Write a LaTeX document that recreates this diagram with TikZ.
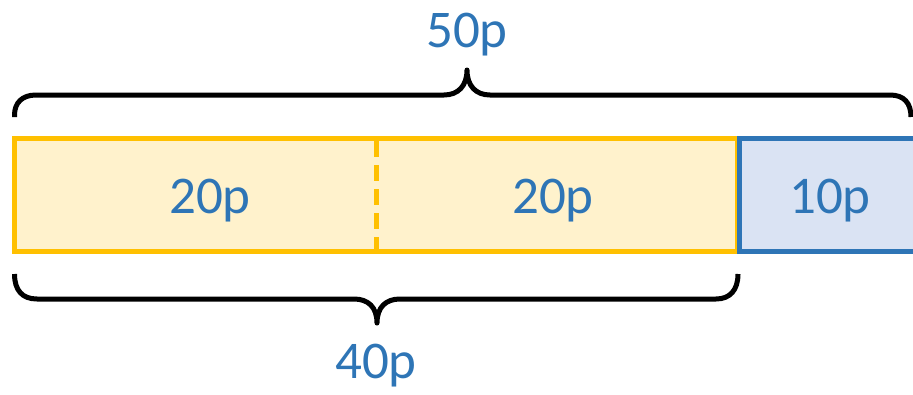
\documentclass[tikz,border=0pt]{standalone}
\usepackage{fontspec}
\setmainfont{Carlito}
\definecolor{ygold}{HTML}{FFC000}
\definecolor{yfill}{HTML}{FFF2CC}
\definecolor{bblue}{HTML}{2E75B6}
\definecolor{bfill}{HTML}{DAE3F3}
\begin{document}
\begin{tikzpicture}[x=1pt,y=-1pt,
  lbl/.style={text=bblue, font=\fontsize{53}{60}\selectfont, anchor=base, inner sep=0pt},
  brace/.style={draw=black, line width=5pt, line join=round},
  ybox/.style={draw=ygold, fill=yfill, line width=5pt},
  bbox/.style={draw=bblue, fill=bfill, line width=5pt}]
\useasboundingbox (0,0) rectangle (913,394);
\clip (0,0) rectangle (913,394);
% boxes
\path[ybox] (14.5,138.5) rectangle (737,251.5);
\coordinate (dt) at (376.5,141);
\coordinate (db) at (376.5,249);
\draw[ygold, line width=5pt, dash pattern=on 16pt off 8pt] (dt) -- (db);
\path[bbox] (739.5,138.5) rectangle (930,251.5);
% top brace
\coordinate (tl) at (14.5,117);
\coordinate (tt) at (467,70);
\coordinate (tr) at (911,117);
\draw[brace] (tl) -- (14.5,115) .. controls (14.5,103) and (22,95) .. (36,95)
  -- (444,95) .. controls (458,95) and (467,86) .. (tt)
  .. controls (467,86) and (476,95) .. (490,95)
  -- (890,95) .. controls (904,95) and (911,103) .. (tr);
% bottom brace
\coordinate (bl) at (14.5,274);
\coordinate (bt) at (377,323);
\coordinate (br) at (738,274);
\draw[brace] (bl) .. controls (14.5,290) and (22,299) .. (37,299)
  -- (354,299) .. controls (368,299) and (377,307) .. (bt)
  .. controls (377,307) and (386,299) .. (400,299)
  -- (716,299) .. controls (730,299) and (738,290) .. (br);
% labels
\node[lbl] (l50) at (467,47) {50p};
\node[lbl] (l20a) at (210,213) {20p};
\node[lbl] (l20b) at (553,213) {20p};
\node[lbl] (l10) at (830,213) {10p};
\node[lbl] (l40) at (376,378) {40p};
\end{tikzpicture}
\end{document}
